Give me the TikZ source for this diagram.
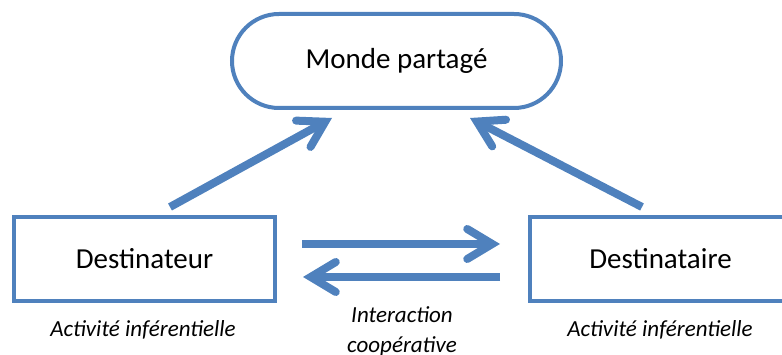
\documentclass[tikz,border=0pt]{standalone}
\usepackage{fontspec}
\setmainfont{Carlito}
\usetikzlibrary{arrows.meta}
\definecolor{boxblue}{RGB}{79,129,189}

\begin{document}
\begin{tikzpicture}[
    x=1pt, y=1pt,
    box/.style={rectangle, draw=boxblue, line width=4pt, fill=white,
        minimum width=261pt, minimum height=84pt, inner sep=0pt,
        font=\fontsize{29}{34}\selectfont},
    pill/.style={box, rounded corners=47pt, minimum width=329pt,
        minimum height=94pt},
    link/.style={draw=boxblue, line width=8pt,
        -{Straight Barb[length=25pt, width=30pt, line cap=round, line join=miter]}},
    note/.style={font=\fontsize{23}{30}\selectfont\itshape, align=center}
]
    \useasboundingbox (0,0) rectangle (782,355);
    \clip (0,0) rectangle (782,355);
    \node[pill] (monde) at (396.5,294) {Monde partagé};
    \node[box] (src) at (144.5,96) {Destinateur};
    \node[box] (dst) at (660.5,96) {Destinataire};
    \node[note] (actsrc) at (143,25) {Activité inférentielle};
    \node[note] (actdst) at (660,25) {Activité inférentielle};
    \node[note] (inter) at (402,24) {Interaction\\coopérative};
    \draw[link] ([shift={(25.5,8)}]src.north) -- ([shift={(-64.5,-8)}]monde.south);
    \draw[link] ([shift={(-18.5,8)}]dst.north) -- ([shift={(73.5,-8)}]monde.south);
    \draw[link] ([shift={(25,15)}]src.east) -- ([shift={(-28,15)}]dst.west);
    \draw[link] ([shift={(-28,-18)}]dst.west) -- ([shift={(26,-18)}]src.east);
\end{tikzpicture}
\end{document}
